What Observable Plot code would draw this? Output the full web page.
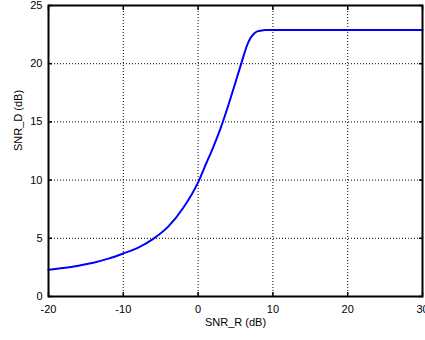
<!DOCTYPE html>
<html>
<head>
<meta charset="utf-8">
<script src="https://cdn.jsdelivr.net/npm/d3@7"></script>
<script src="https://cdn.jsdelivr.net/npm/@observablehq/plot@0.6"></script>
<style>
  html, body { margin: 0; padding: 0; background: #fff; }
  #chart svg { display: block; }
</style>
</head>
<body>
<div id="chart"></div>
<script>
const snrR = [-20, -18, -16, -14, -12, -10, -8, -6, -4, -2, 0, 1, 2, 3, 4, 5, 6, 6.5, 7, 7.5, 8, 8.5, 9, 10, 15, 20, 25, 30];
const snrD = [2.3, 2.45, 2.65, 2.9, 3.25, 3.7, 4.2, 4.95, 6.0, 7.6, 9.8, 11.3, 12.8, 14.45, 16.35, 18.4, 20.5, 21.5, 22.2, 22.6, 22.8, 22.85, 22.9, 22.9, 22.9, 22.9, 22.9, 22.9];
const xTicks = [-20, -10, 0, 10, 20, 30];
const yTicks = [0, 5, 10, 15, 20, 25];

const data = snrR.map((x, i) => ({x, y: snrD[i]}));
const font = "Liberation Sans, Arial, sans-serif";
const fmt = d => String(d);

const chart = Plot.plot({
  width: 425,
  height: 340,
  marginLeft: 48,
  marginRight: 3,
  marginTop: 5,
  marginBottom: 44,
  style: {fontFamily: font, fontSize: "11px", color: "black", background: "white"},
  x: {domain: [-20, 30]},
  y: {domain: [0, 25]},
  marks: [
    Plot.gridX(xTicks, {stroke: "black", strokeOpacity: 1, strokeDasharray: "1,2", strokeWidth: 1}),
    Plot.gridY(yTicks, {stroke: "black", strokeOpacity: 1, strokeDasharray: "1,2", strokeWidth: 1}),
    Plot.axisX(xTicks, {anchor: "bottom", tickSize: 0, tickPadding: 9, label: null, fontSize: 11, tickFormat: fmt}),
    Plot.axisY(yTicks, {anchor: "left", tickSize: 0, tickPadding: 6, label: null, fontSize: 11, tickFormat: fmt}),
    Plot.axisX(xTicks, {anchor: "bottom", tickSize: -4, text: null, label: null, strokeWidth: 1.5}),
    Plot.axisX(xTicks, {anchor: "top", tickSize: -4, text: null, label: null, strokeWidth: 1.5}),
    Plot.axisY(yTicks, {anchor: "left", tickSize: -4, text: null, label: null, strokeWidth: 1.5}),
    Plot.axisY(yTicks, {anchor: "right", tickSize: -4, text: null, label: null, strokeWidth: 1.5}),
    Plot.line(data, {x: "x", y: "y", stroke: "#0000ff", strokeWidth: 2, curve: "monotone-x"}),
    Plot.frame({stroke: "black", strokeWidth: 2}),
    Plot.text(["SNR_R (dB)"], {frameAnchor: "bottom", dy: 29, text: d => d, fontSize: 11}),
    Plot.text(["SNR_D (dB)"], {frameAnchor: "left", dx: -30, rotate: -90, text: d => d, fontSize: 11})
  ]
});
document.getElementById("chart").appendChild(chart);
</script>
</body>
</html>
